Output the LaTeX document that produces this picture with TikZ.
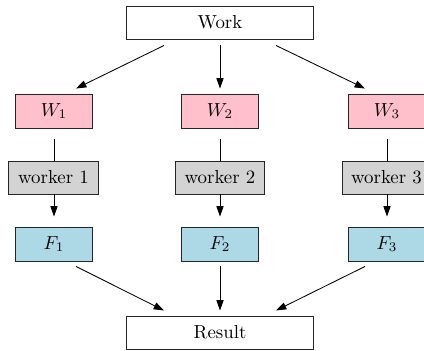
\documentclass[tikz,border=0pt]{standalone}
\usetikzlibrary{arrows.meta,calc}
\definecolor{wpink}{RGB}{255,192,203}
\definecolor{wgray}{RGB}{211,211,211}
\definecolor{fblue}{RGB}{173,216,230}
\begin{document}
\begin{tikzpicture}[x=0.53pt,y=-0.53pt,
  box/.style={draw=black!85, line width=0.5pt, inner sep=0pt, minimum height=17.5pt},
  widebox/.style={box, fill=white, minimum width=99.6pt},
  wbox/.style={box, fill=wpink, minimum width=41.3pt, minimum height=18pt},
  workerbox/.style={box, fill=wgray, minimum width=47.2pt},
  fbox/.style={box, fill=fblue, minimum width=41.3pt, minimum height=18pt},
  arr/.style={-{Triangle[length=5.5pt,width=3.8pt]}, line width=0.45pt},
  plain/.style={line width=0.45pt}]
\clip (0,0) rectangle (424,351);
\node[widebox] (work) at (220,22.5) {Work};
\node[wbox] (w1) at (54,111) {$W_1$};
\node[wbox] (w2) at (220,111) {$W_2$};
\node[wbox] (w3) at (387,111) {$W_3$};
\node[workerbox] (k1) at (53.5,177.5) {worker 1};
\node[workerbox] (k2) at (220,177.5) {worker 2};
\node[workerbox] (k3) at (386.5,177.5) {worker 3};
\node[fbox] (f1) at (54,244) {$F_1$};
\node[fbox] (f2) at (220,244) {$F_2$};
\node[fbox] (f3) at (387,244) {$F_3$};
\node[widebox] (res) at (220,332.5) {Result};
% Work -> W
\draw[arr] ($(work.south)+(-56,6)$) -- ($(w1.north)+(22,-5)$);
\draw[arr] ($(work.south)+(0,6)$) -- ($(w2.north)+(0,-5)$);
\draw[arr] ($(work.south)+(56,6)$) -- ($(w3.north)+(-22,-5)$);
% W -- worker
\draw[plain] ($(w1.south)+(0,11)$) -- (w1.south |- k1.north);
\draw[plain] ($(w2.south)+(0,11)$) -- (k2.north);
\draw[plain] ($(w3.south)+(0,11)$) -- (w3.south |- k3.north);
% worker -> F
\draw[arr] (f1.north |- k1.south) -- ($(f1.north)+(0,-10)$);
\draw[arr] (k2.south) -- ($(f2.north)+(0,-10)$);
\draw[arr] (f3.north |- k3.south) -- ($(f3.north)+(0,-10)$);
% F -> Result
\draw[arr] ($(f1.south)+(22,5)$) -- ($(res.north)+(-56,-5)$);
\draw[arr] ($(f2.south)+(0,5)$) -- ($(res.north)+(0,-5)$);
\draw[arr] ($(f3.south)+(-22,5)$) -- ($(res.north)+(56,-5)$);
\end{tikzpicture}
\end{document}
